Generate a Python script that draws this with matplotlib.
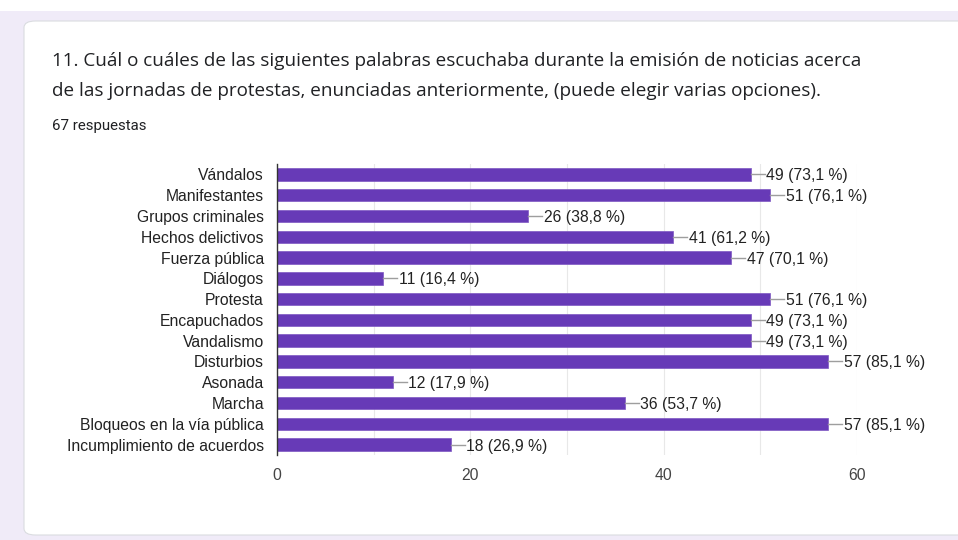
import matplotlib
matplotlib.use("Agg")
import matplotlib.pyplot as plt
from matplotlib.patches import FancyBboxPatch, Rectangle

categories = ["Vándalos", "Manifestantes", "Grupos criminales", "Hechos delictivos",
              "Fuerza pública", "Diálogos", "Protesta", "Encapuchados", "Vandalismo",
              "Disturbios", "Asonada", "Marcha", "Bloqueos en la vía pública",
              "Incumplimiento de acuerdos"]
counts = [49, 51, 26, 41, 47, 11, 51, 49, 49, 57, 12, 36, 57, 18]
percents = ["73,1", "76,1", "38,8", "61,2", "70,1", "16,4", "76,1", "73,1", "73,1",
            "85,1", "17,9", "53,7", "85,1", "26,9"]
xticks = [0, 20, 40, 60]
title_lines = ["11. Cuál o cuáles de las siguientes palabras escuchaba durante la emisión de noticias acerca",
               "de las jornadas de protestas, enunciadas anteriormente, (puede elegir varias opciones)."]
subtitle = "67 respuestas"

W, H = 958, 540
fig = plt.figure(figsize=(W / 100, H / 100), dpi=100)
fig.patch.set_facecolor("#f0ebf8")

def fx(px):
    return px / W

def fy(py):
    return 1 - py / H

# white strip at top
fig.patches.append(Rectangle((0, fy(11)), 1, 11 / H, transform=fig.transFigure,
                             facecolor="white", edgecolor="none", zorder=-2))
# card
card = FancyBboxPatch((fx(24), fy(535)), fx(1000) - fx(24), (535 - 21) / H,
                      boxstyle="round,pad=0,rounding_size=0.012",
                      transform=fig.transFigure, facecolor="white",
                      edgecolor="#dadce0", linewidth=0.8, zorder=-1)
fig.patches.append(card)

fig.text(fx(52), fy(66), title_lines[0], fontsize=13.6, family="Open Sans",
         color="#202124", va="baseline", ha="left")
fig.text(fx(52), fy(96), title_lines[1], fontsize=13.6, family="Open Sans",
         color="#202124", va="baseline", ha="left")
fig.text(fx(52), fy(130), subtitle, fontsize=10.8, family="Roboto",
         color="#202124", va="baseline", ha="left")

ax = fig.add_axes([fx(277), fy(455), fx(857) - fx(277), (455 - 164) / H])
ax.set_zorder(2)
ax.set_facecolor("none")
y = list(range(len(categories)))
ax.barh(y, counts, height=0.6, color="#673ab7", edgecolor="#7e57c2",
        linewidth=0.5, zorder=3)
ax.set_ylim(len(categories) - 0.5, -0.5)
ax.set_xlim(0, 60)
ax.set_xticks(xticks)
ax.set_xticks(range(0, 61, 10), minor=True)
ax.grid(axis="x", which="both", color="#e8e8e8", linewidth=0.8, zorder=0)
ax.set_yticks(y)
ax.set_yticklabels(categories, fontsize=11.3, family="Liberation Sans", color="#222222")
for lbl in ax.get_yticklabels():
    lbl.set_verticalalignment("center_baseline")
ax.tick_params(axis="y", length=0, pad=9.4)
ax.tick_params(axis="x", length=0, pad=9, labelsize=11.3, labelcolor="#444444")
ax.tick_params(axis="x", which="minor", length=0)
for lbl in ax.get_xticklabels():
    lbl.set_family("Liberation Sans")
for s in ["top", "right", "bottom"]:
    ax.spines[s].set_visible(False)
ax.spines["left"].set_color("#333333")
ax.spines["left"].set_linewidth(1.0)
ax.spines["left"].set_zorder(4)

px_per_unit = (857 - 277) / 60
line_len = 14 / px_per_unit
gap = 1.5 / px_per_unit
for yi, c, p in zip(y, counts, percents):
    ax.plot([c, c + line_len], [yi, yi], color="#9e9e9e", linewidth=1, zorder=3,
            clip_on=False)
    ax.text(c + line_len + gap, yi, f"{c} ({p} %)", va="center_baseline", ha="left",
            fontsize=11.3, family="Liberation Sans", color="#222222", clip_on=False)

fig.savefig("out.png", dpi=100, facecolor=fig.get_facecolor())
